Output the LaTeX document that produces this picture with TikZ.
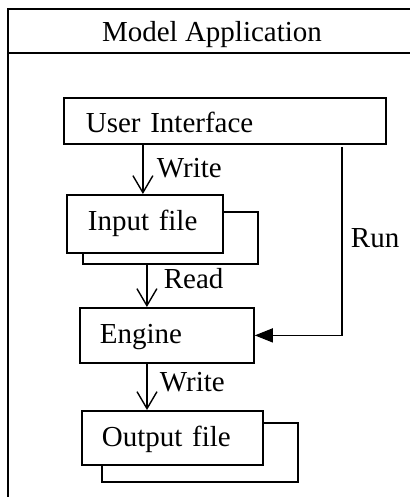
\documentclass[tikz,border=0pt]{standalone}
\usepackage{fontspec}
\setmainfont{Liberation Serif}
\usetikzlibrary{arrows.meta,calc}
\begin{document}
\begin{tikzpicture}[x=1pt,y=-1pt, line width=1.8pt,
  txt/.style={font=\fontsize{29}{33}\selectfont},
  box/.style={txt, draw, fill=white, anchor=north west, inner ysep=0pt, align=left},
  shadowbox/.style={draw, anchor=north west, inner sep=0pt},
  lbl/.style={txt, anchor=base west, inner sep=0pt},
  openarrow/.style={line width=1.4pt, -{Straight Barb[length=17pt,width=20pt]}},
  solidarrow/.style={line width=1.4pt, -{Triangle[length=18pt,width=14pt]}}]
\useasboundingbox (0,0) rectangle (410,497);
% outer frame
\draw (8,497) -- (8,9) -- (410,9);
\draw (8,53) -- (410,53);
\node[lbl, anchor=base] (title) at (212,42) {Model Application};
% boxes
\node[box, text width=278pt, inner xsep=22pt, text height=35pt, text depth=11pt] (ui) at (63,97) {User Interface};
\node[shadowbox, minimum width=175pt, minimum height=52pt] (insh) at (82,211) {};
\node[box, text width=114pt, inner xsep=21pt, text height=36pt, text depth=22pt] (inp) at (66,194) {Input file};
\node[box, text width=134pt, inner xsep=20pt, text height=36pt, text depth=19pt] (eng) at (79,307) {Engine};
\node[shadowbox, minimum width=196pt, minimum height=59pt] (outsh) at (101,422) {};
\node[box, text width=141pt, inner xsep=20pt, text height=36pt, text depth=18pt] (out) at (81,410) {Output file};
% connectors
\draw[openarrow] ([xshift=-2pt]inp.north |- ui.south) -- ([xshift=-2pt]inp.north);
\node[lbl] (w1) at (156,177) {Write};
\draw[openarrow] ([xshift=2pt]inp.south |- insh.south) -- ([xshift=2pt]inp.south |- eng.north);
\node[lbl] (rd) at (163,288) {Read};
\draw[openarrow] ([xshift=68pt]eng.south west) -- ([xshift=68pt]eng.south west |- out.north);
\node[lbl] (w2) at (159,391) {Write};
\coordinate (runx) at (342,0);
\draw[solidarrow] ([yshift=-2pt]ui.south -| runx) -- (runx |- eng.east) -- (eng.east);
\node[lbl] (run) at (350,247) {Run};
\end{tikzpicture}
\end{document}
